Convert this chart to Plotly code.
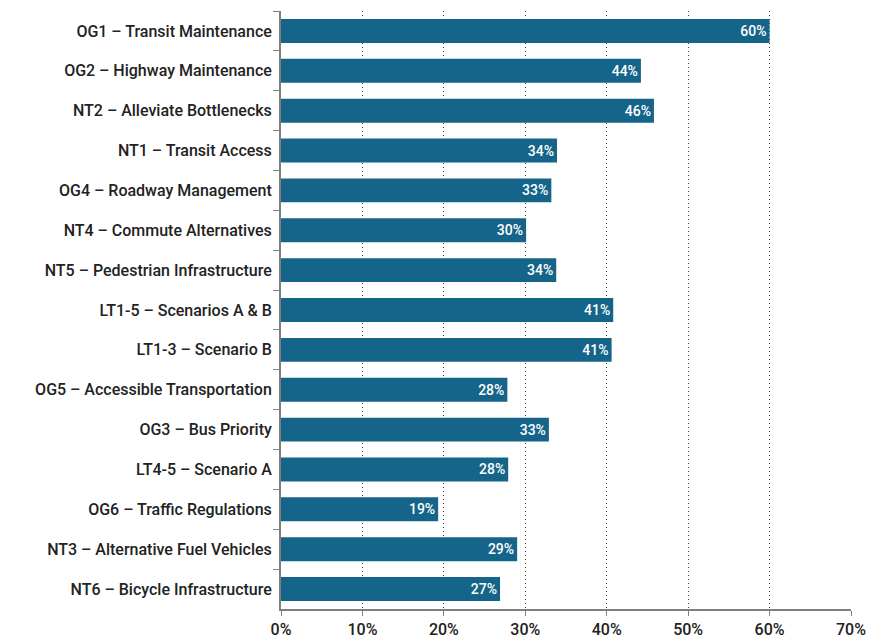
import plotly.graph_objects as go

# ── Data ──────────────────────────────────────────────────────────────────────
categories = [
    "OG1 – Transit Maintenance",
    "OG2 – Highway Maintenance",
    "NT2 – Alleviate Bottlenecks",
    "NT1 – Transit Access",
    "OG4 – Roadway Management",
    "NT4 – Commute Alternatives",
    "NT5 – Pedestrian Infrastructure",
    "LT1-5 – Scenarios A & B",
    "LT1-3 – Scenario B",
    "OG5 – Accessible Transportation",
    "OG3 – Bus Priority",
    "LT4-5 – Scenario A",
    "OG6 – Traffic Regulations",
    "NT3 – Alternative Fuel Vehicles",
    "NT6 – Bicycle Infrastructure",
]
shares = [0.600, 0.442, 0.458, 0.339, 0.332, 0.301, 0.338, 0.408,
          0.406, 0.278, 0.329, 0.279, 0.193, 0.290, 0.269]
x_ticks = [0, 0.1, 0.2, 0.3, 0.4, 0.5, 0.6, 0.7]

# ── Style ─────────────────────────────────────────────────────────────────────
BAR = "#156489"
AXIS = "#7f7f7f"
TEXT = "#222222"
FONT = "Roboto"

fig = go.Figure(go.Bar(
    x=shares,
    y=categories,
    orientation="h",
    marker=dict(color=BAR, line=dict(width=0)),
    text=[f"{v:.0%}" for v in shares],
    textposition="inside",
    insidetextanchor="end",
    textfont=dict(color="white", size=14, family=FONT, weight=500),
    cliponaxis=False,
    hoverinfo="skip",
))

# page body adds an 8px offset, so the figure is sized/margined to compensate
fig.update_layout(
    width=874,
    height=634,
    paper_bgcolor="white",
    plot_bgcolor="white",
    font=dict(family=FONT, color=TEXT, size=16, weight=500),
    margin=dict(l=273, r=31, t=3, b=31),
    bargap=0.4,
    showlegend=False,
    uniformtext=dict(minsize=14, mode="show"),
    xaxis=dict(
        range=[0, 0.7],
        tickvals=x_ticks,
        tickformat=".0%",
        showgrid=True,
        gridcolor="#444444",
        griddash="1px,3px",
        gridwidth=1,
        zeroline=False,
        showline=True,
        linecolor=AXIS,
        linewidth=2,
        ticks="outside",
        ticklen=5,
        tickcolor=AXIS,
        tickwidth=1,
        tickfont=dict(size=16, color=TEXT),
    ),
    yaxis=dict(
        autorange="reversed",
        showgrid=False,
        zeroline=False,
        showline=True,
        linecolor=AXIS,
        linewidth=2,
        ticks="outside",
        tickson="boundaries",
        ticklen=6,
        tickcolor=AXIS,
        tickwidth=1,
        ticksuffix=" ",
        tickfont=dict(size=16, color=TEXT),
    ),
)

fig.write_html("out.html")
